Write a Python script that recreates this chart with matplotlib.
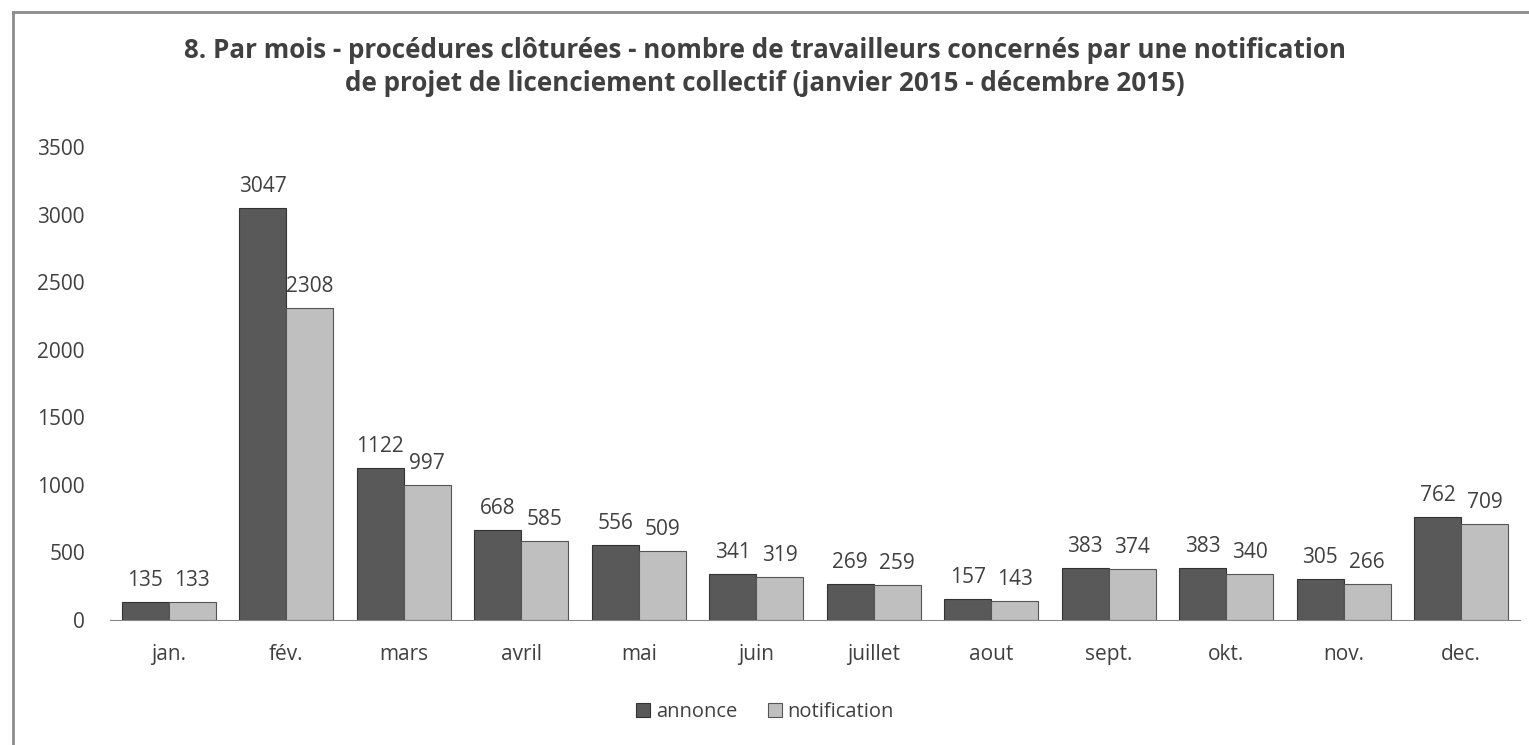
import numpy as np
import matplotlib.pyplot as plt
from matplotlib.lines import Line2D

months = ["jan.", "fév.", "mars", "avril", "mai", "juin", "juillet", "aout",
          "sept.", "okt.", "nov.", "dec."]
annonce = [135, 3047, 1122, 668, 556, 341, 269, 157, 383, 383, 305, 762]
notification = [133, 2308, 997, 585, 509, 319, 259, 143, 374, 340, 266, 709]
yticks = [0, 500, 1000, 1500, 2000, 2500, 3000, 3500]

title = ("8. Par mois - procédures clôturées - nombre de travailleurs concernés par une notification\n"
         "de projet de licenciement collectif (janvier 2015 - décembre 2015)")

plt.rcParams['font.family'] = ['Open Sans', 'DejaVu Sans']
txt = "#404040"

fig = plt.figure(figsize=(15.29, 7.45), dpi=100)
ax = fig.add_axes([110 / 1529, 1 - 620 / 745, 1410 / 1529, (620 - 147) / 745])

x = np.arange(len(months))
w = 0.4
b1 = ax.bar(x - w / 2, annonce, w, color="#595959", edgecolor="#333333", linewidth=0.8, label="annonce")
b2 = ax.bar(x + w / 2, notification, w, color="#bfbfbf", edgecolor="#555555", linewidth=0.8, label="notification")
ax.bar_label(b1, padding=8, fontsize=15, color=txt)
ax.bar_label(b2, padding=8, fontsize=15, color=txt)

ax.set_xlim(-0.5, len(months) - 0.5)
ax.set_ylim(0, 3500)
ax.set_yticks(yticks)
ax.set_xticks(x)
ax.set_xticklabels(months)
ax.tick_params(axis="both", length=0, labelsize=15, colors=txt)
ax.tick_params(axis="x", pad=17)
ax.tick_params(axis="y", pad=18)
for s in ["top", "right", "left"]:
    ax.spines[s].set_visible(False)
ax.spines["bottom"].set_color("#888888")

fig.text(0.5, 1 - 67 / 745, title, ha="center", va="center", fontsize=18.7, fontweight="bold",
         color=txt, linespacing=1.25)

fig.legend(handles=[b1, b2], loc="center", bbox_to_anchor=(765 / 1529, 1 - 712 / 745), ncol=2,
           frameon=False, fontsize=14.5, handlelength=0.7, handleheight=0.7, columnspacing=1.5,
           handletextpad=0.3, labelcolor=txt)

# outer chart frame (left and top edges)
fig.add_artist(Line2D([13 / 1529, 13 / 1529], [0, 1 - 12 / 745], transform=fig.transFigure,
                      color="#8c8c8c", linewidth=2))
fig.add_artist(Line2D([13 / 1529, 1], [1 - 12 / 745, 1 - 12 / 745], transform=fig.transFigure,
                      color="#8c8c8c", linewidth=2))

fig.savefig("out.png", dpi=100)
